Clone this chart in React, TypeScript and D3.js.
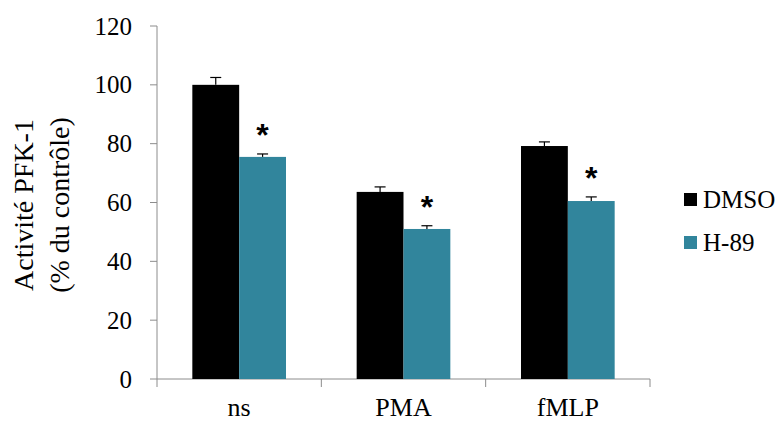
import React from "react";
import * as d3 from "d3";

const categories = ["ns", "PMA", "fMLP"];
const seriesNames = ["DMSO", "H-89"];
const dmsoValues = [100, 63.6, 79.2];
const dmsoErrors = [2.5, 1.7, 1.4];
const h89Values = [75.5, 51.0, 60.5];
const h89Errors = [1.0, 1.1, 1.4];
const significant = [true, true, true];
const yTicks = [0, 20, 40, 60, 80, 100, 120];
const colors = ["#000000", "#31859C"];

const W = 782;
const H = 421;
const plotLeft = 157;
const plotRight = 650;
const plotTop = 26;
const plotBottom = 379;
const font = "'Liberation Serif', 'Times New Roman', serif";

export default function App() {
  const x = d3.scaleBand<string>().domain(categories).range([plotLeft, plotRight]).paddingInner(0.43).paddingOuter(0.215);
  const y = d3.scaleLinear().domain([0, 120]).range([plotBottom, plotTop]);
  const inner = d3.scaleBand<string>().domain(seriesNames).range([0, x.bandwidth()]);
  const series = [
    { name: seriesNames[0], values: dmsoValues, errors: dmsoErrors },
    { name: seriesNames[1], values: h89Values, errors: h89Errors },
  ];
  const step = (plotRight - plotLeft) / categories.length;
  const axisColor = "#8c8c8c";

  return (
    <svg width={W} height={H} style={{ position: "absolute", left: 0, top: 0, background: "#fff" }} fontFamily={font}>
      {/* y axis */}
      <line x1={plotLeft} x2={plotLeft} y1={plotTop} y2={plotBottom} stroke={axisColor} strokeWidth={1} />
      {yTicks.map((t) => (
        <g key={t}>
          <line x1={plotLeft - 7} x2={plotLeft} y1={y(t)} y2={y(t)} stroke={axisColor} strokeWidth={1} />
          <text x={132} y={y(t)} dy="0.34em" textAnchor="end" fontSize={25} fill="#000">
            {t}
          </text>
        </g>
      ))}
      {/* x axis */}
      <line x1={plotLeft} x2={plotRight} y1={plotBottom} y2={plotBottom} stroke={axisColor} strokeWidth={1} />
      {d3.range(categories.length + 1).map((i) => (
        <line key={i} x1={plotLeft + i * step} x2={plotLeft + i * step} y1={plotBottom} y2={plotBottom + 8} stroke={axisColor} strokeWidth={1} />
      ))}
      {categories.map((c) => (
        <text key={c} x={(x(c) ?? 0) + x.bandwidth() / 2} y={416} textAnchor="middle" fontSize={26} fill="#000">
          {c}
        </text>
      ))}
      {/* bars */}
      {series.map((s, si) =>
        categories.map((c, ci) => {
          const bx = (x(c) ?? 0) + (inner(s.name) ?? 0);
          const bw = inner.bandwidth();
          const top = y(s.values[ci]);
          const errTop = y(s.values[ci] + s.errors[ci]);
          const cx = bx + bw / 2;
          return (
            <g key={s.name + c}>
              <rect x={bx} y={top} width={bw} height={plotBottom - top} fill={colors[si]} />
              <line x1={cx} x2={cx} y1={top} y2={errTop} stroke="#000" strokeWidth={1.2} />
              <line x1={cx - 5.5} x2={cx + 5.5} y1={errTop} y2={errTop} stroke="#000" strokeWidth={1.2} />
            </g>
          );
        })
      )}
      {/* significance */}
      {categories.map((c, ci) =>
        significant[ci] ? (
          <text
            key={"s" + c}
            x={(x(c) ?? 0) + (inner(seriesNames[1]) ?? 0) + inner.bandwidth() / 2}
            y={y(h89Values[ci] + h89Errors[ci]) - 8}
            textAnchor="middle"
            fontSize={32}
            fontWeight="bold"
            fontFamily="'Liberation Sans', Arial, sans-serif"
            fill="#000"
          >
            *
          </text>
        ) : null
      )}
      {/* y title */}
      <g transform={`translate(33, 205) rotate(-90)`}>
        <text x={0} y={0} textAnchor="middle" fontSize={28} fill="#000">
          Activité PFK-1
        </text>
        <text x={0} y={36} textAnchor="middle" fontSize={28} fill="#000">
          (% du contrôle)
        </text>
      </g>
      {/* legend */}
      {seriesNames.map((n, i) => (
        <g key={n} transform={`translate(684, ${193 + i * 43})`}>
          <rect x={0} y={0} width={13} height={13} fill={colors[i]} />
          <text x={19} y={6.5} dy="0.34em" fontSize={25} fill="#000">
            {n}
          </text>
        </g>
      ))}
    </svg>
  );
}
